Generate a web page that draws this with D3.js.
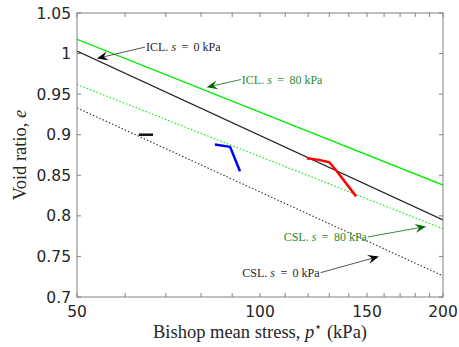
<!DOCTYPE html>
<html><head><meta charset="utf-8">
<script src="https://cdn.jsdelivr.net/npm/d3@7"></script>
<style>body{margin:0;background:#fff}svg{display:block}</style>
</head><body>
<svg id="chart" width="459" height="347"></svg>
<script>
// ---- data ----
const xTicks = [50, 100, 150, 200];
const xMinorTicks = [60, 70, 80, 90, 110, 120, 130, 140, 160, 170, 180, 190];
const yTicks = [0.7, 0.75, 0.8, 0.85, 0.9, 0.95, 1, 1.05];
const yTickLabels = ["0.7", "0.75", "0.8", "0.85", "0.9", "0.95", "1", "1.05"];

const iclS0 = [[50, 1.003], [200, 0.795]];
const iclS80 = [[50, 1.0176], [200, 0.838]];
const cslS80 = [[50, 0.962], [200, 0.784]];
const cslS0 = [[50, 0.933], [200, 0.726]];

const pathBlack = [[63.2, 0.900], [66.7, 0.900]];
const pathBlue = [[84.3, 0.888], [89.3, 0.885], [92.7, 0.855]];
const pathRed = [[119.4, 0.871], [125, 0.869], [130.0, 0.866], [133.8, 0.855], [143.9, 0.824]];

// annotations: label, text anchor point [p,e], arrow tip [p,e], anchor side
const annLabels = ["ICL. ", "ICL. ", "CSL. ", "CSL. "];
const annValues = ["0", "80", "80", "0"];
const annFrom = [[64.7, 1.008], [93.0, 0.968], [150.5, 0.774], [125.8, 0.730]];
const annTip = [[53.9, 0.994], [81.7, 0.9585], [187.6, 0.787], [156.9, 0.750]];
const annAnchor = ["start", "start", "end", "end"];
const annColorKey = ["black", "green", "green", "black"];

// ---- layout ----
const svg = d3.select("#chart");
const L = 77, R = 443, T = 13, B = 297;
const x = d3.scaleLog().domain([50, 200]).range([L, R]);
const y = d3.scaleLinear().domain([0.7, 1.05]).range([B, T]);

const axisColor = "#808080";
const tickLen = 4;

svg.append("clipPath").attr("id", "clip").append("rect")
  .attr("x", L).attr("y", T).attr("width", R - L).attr("height", B - T);

const line = d3.line().x(d => x(d[0])).y(d => y(d[1]));
const g = svg.append("g").attr("clip-path", "url(#clip)");

g.append("path").datum(cslS0).attr("d", line).attr("fill", "none")
  .attr("stroke", "#333").attr("stroke-width", 1.1).attr("stroke-dasharray", "1.5,2");
g.append("path").datum(cslS80).attr("d", line).attr("fill", "none")
  .attr("stroke", "#00ee00").attr("stroke-width", 1.1).attr("stroke-dasharray", "1.5,2");
g.append("path").datum(iclS0).attr("d", line).attr("fill", "none")
  .attr("stroke", "#222").attr("stroke-width", 1.2);
g.append("path").datum(iclS80).attr("d", line).attr("fill", "none")
  .attr("stroke", "#00ee00").attr("stroke-width", 1.3);

g.append("path").datum(pathBlack).attr("d", line).attr("fill", "none")
  .attr("stroke", "#111").attr("stroke-width", 2.5);
g.append("path").datum(pathBlue).attr("d", line).attr("fill", "none")
  .attr("stroke", "#0000ff").attr("stroke-width", 2.5).attr("stroke-linejoin", "round");
g.append("path").datum(pathRed).attr("d", line).attr("fill", "none")
  .attr("stroke", "#ff0000").attr("stroke-width", 2.5).attr("stroke-linejoin", "round");

// frame
svg.append("rect").attr("x", L).attr("y", T).attr("width", R - L).attr("height", B - T)
  .attr("fill", "none").attr("stroke", axisColor).attr("stroke-width", 1);

// ticks
const xAll = xTicks.concat(xMinorTicks);
xAll.forEach(v => {
  const px = x(v);
  svg.append("line").attr("x1", px).attr("x2", px).attr("y1", B).attr("y2", B - tickLen)
    .attr("stroke", axisColor);
  svg.append("line").attr("x1", px).attr("x2", px).attr("y1", T).attr("y2", T + tickLen)
    .attr("stroke", axisColor);
});
yTicks.forEach(v => {
  const py = y(v);
  svg.append("line").attr("x1", L).attr("x2", L + tickLen).attr("y1", py).attr("y2", py)
    .attr("stroke", axisColor);
  svg.append("line").attr("x1", R).attr("x2", R - tickLen).attr("y1", py).attr("y2", py)
    .attr("stroke", axisColor);
});

const tickFont = "'DejaVu Sans', sans-serif";
xTicks.forEach(v => {
  svg.append("text").attr("x", x(v)).attr("y", 317).attr("text-anchor", "middle")
    .attr("font-family", tickFont).attr("font-size", 15.5).attr("fill", "#262626").text(v);
});
yTicks.forEach((v, i) => {
  svg.append("text").attr("x", 71).attr("y", y(v)).attr("dy", "0.36em").attr("text-anchor", "end")
    .attr("font-family", tickFont).attr("font-size", 15.5).attr("fill", "#262626").text(yTickLabels[i]);
});

// axis labels
const serif = "'Liberation Serif', 'Times New Roman', serif";
const xl = svg.append("text").attr("x", 260).attr("y", 338).attr("text-anchor", "middle")
  .attr("font-family", serif).attr("font-size", 18.5).attr("fill", "#262626");
xl.append("tspan").text("Bishop mean stress, ");
xl.append("tspan").attr("font-style", "italic").text("p");
xl.append("tspan").attr("font-size", 13).attr("dy", -7).text("\u22c6");
xl.append("tspan").attr("dy", 7).text(" (kPa)");

const yl = svg.append("text").attr("transform", "translate(26,155) rotate(-90)")
  .attr("text-anchor", "middle").attr("font-family", serif).attr("font-size", 18.5).attr("fill", "#262626");
yl.append("tspan").text("Void ratio, ");
yl.append("tspan").attr("font-style", "italic").text("e");

// annotations
const colors = {
  black: {text: "#262626", line: "#555", head: "#000"},
  green: {text: "#2e8b2e", line: "#3a8a3a", head: "#006400"}
};
annLabels.forEach((lab, i) => {
  const c = colors[annColorKey[i]];
  const fx = x(annFrom[i][0]), fy = y(annFrom[i][1]);
  const tx = x(annTip[i][0]), ty = y(annTip[i][1]);
  const ang = Math.atan2(ty - fy, tx - fx);
  const hl = 11, hw = 4.5, back = 7;
  const bx = tx - Math.cos(ang) * back, by = ty - Math.sin(ang) * back;
  svg.append("line").attr("x1", fx).attr("y1", fy).attr("x2", bx).attr("y2", by)
    .attr("stroke", c.line).attr("stroke-width", 1);
  const ux = Math.cos(ang), uy = Math.sin(ang), nx = -uy, ny = ux;
  const p1 = [tx - ux * hl + nx * hw, ty - uy * hl + ny * hw];
  const p2 = [tx - ux * hl - nx * hw, ty - uy * hl - ny * hw];
  const pb = [tx - ux * back, ty - uy * back];
  svg.append("path").attr("d", `M${tx},${ty}L${p1[0]},${p1[1]}L${pb[0]},${pb[1]}L${p2[0]},${p2[1]}Z`)
    .attr("fill", c.head);
  const t = svg.append("text").attr("x", fx + (annAnchor[i] === "start" ? 1 : -1)).attr("y", fy + 4)
    .attr("text-anchor", annAnchor[i]).attr("font-family", serif).attr("font-size", 12).attr("fill", c.text)
    .attr("xml:space", "preserve").style("white-space", "pre");
  t.append("tspan").text(lab);
  t.append("tspan").attr("font-style", "italic").text("s");
  t.append("tspan").text("\u2009 = \u2009" + annValues[i] + " kPa");
});
</script>
</body></html>
